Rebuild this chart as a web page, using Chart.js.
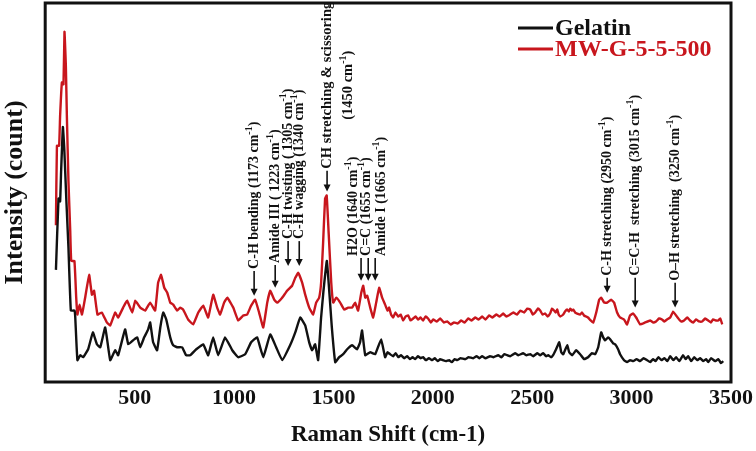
<!DOCTYPE html>
<html>
<head>
<meta charset="utf-8">
<script src="https://cdn.jsdelivr.net/npm/chart.js@4"></script>
<style>
  html, body { margin: 0; padding: 0; background: #fff; }
  #wrap { width: 756px; height: 451px; }
</style>
</head>
<body>
<div id="wrap"><canvas id="raman"></canvas></div>
<script>
// x tick labels (Raman shift, cm-1)
const xTicks = [500, 1000, 1500, 2000, 2500, 3000, 3500];

// Gelatin spectrum (intensity in arbitrary counts)
const shiftGelatin = [
  104,117,125,130,139,146,156,167,179,197, 201,212,226,241,266,290,310,327,352,377,
  402,417,452,468,498,513,528,548,568,578, 593,613,629,644,659,679,694,714,739,759,
  779,810,845,870,895,920,955,991,1021,1056, 1086,1116,1147,1182,1212,1242,1282,1308,1333,1358,
  1378,1393,1408,1423,1438,1450,1467,1492,1509,1529, 1549,1569,1594,1619,1634,1644,1660,1685,1710,1740,
  1760,1772,1785,1800,1813,1826,1840,1855,1871,1885, 1898,1911,1925,1938,1951,1965,1980,1997,2010,2025,
  2037,2050,2066,2082,2095,2110,2122,2140,2163,2180, 2203,2220,2235,2248,2265,2288,2305,2329,2345,2360,
  2374,2390,2414,2430,2454,2470,2490,2505,2525,2540, 2555,2570,2580,2595,2605,
  2620,2636,2646,2656,2676,2686,2701,2721,2741,2761, 2781,2801,2817,2832,2847,2857,2867,2882,2892,2907,
  2917,2932,2942,
  2962,2977,2993,3008,3025,3043,3060,3078,3093,3108, 3120,3135,3150,3165,3180,3194,3210,3224,3240,3259,
  3272,3284,3300,3315,3330,3345,3360,3375,3385,3400, 3420,3436,3450,3461
];
const intensityGelatin = [
  113,185,182,212,257,235,185,135,72,72, 66,22,27,25,33,50,38,35,55,22,
  32,27,53,38,43,45,35,45,53,60, 40,32,55,70,63,45,37,35,35,27,
  27,33,38,27,45,27,45,32,25,28, 40,45,25,48,35,22,37,50,65,57,
  40,32,38,22,65,92,122,55,20,25, 28,33,37,33,40,52,27,30,28,43,
  25,30,28,26,29,25,27,24,26,23, 25,23,26,24,25,22,24,22,24,21,
  23,22,21,22,20,23,22,24,23,25, 24,26,24,26,24,26,25,27,25,28,
  27,26,29,27,29,27,28,26,29,27, 29,26,27,25,27,
  33,40,30,28,37,30,27,32,28,23, 25,29,28,35,50,45,42,45,43,39,
  38,33,28,
  22,20,22,21,23,21,24,22,20,23, 21,25,22,24,21,26,22,25,21,27,
  23,26,21,25,22,24,21,23,20,24, 21,23,19,21
];

// MW-G-5-5-500 spectrum
const shiftMW = [
  104,109,120,125,134,142,147,154,159,167, 176,181,197,206,212,223,235,251,271,285,
  296,313,335,360,377,402,417,442,462,488, 503,528,553,578,603,618,633,649,664,679,
  694,714,729,744,769,794,820,845,870,895, 915,930,950,966,996,1021,1046,1066,1086,1106,
  1126,1147,1167,1182,1202,1217,1242,1267,1292,1308, 1323,1343,1358,1378,1398,1413,1428,1438,1448,1458,
  1466,1476,1489,1499,1514,1534,1554,1574,1594,1609, 1624,1640,1650,1660,1670,1685,1700,1715,1730,1745,
  1760,1772,1780,1790,1800,1812,1826,1838,1851,1863, 1876,1888,1901,1913,1926,1938,1951,1963,1976,1990,
  2002,2020,2037,2055,2072,2090,2107,2125,2142,2160, 2178,2195,2213,2230,2248,2265,2283,2300,2319,2336,
  2354,2370,2389,2405,2424,2440,2459,2475,2490,2503, 2515,2528,2540,2552,2565,2578,2590,2600,2610,2618,
  2626,2633,2641,2656,2665,2676,2684,2691,2700,2706, 2716,2726,2741,2751,2761,2771,2781,2794,2807,
  2822,2837,2847,2862,2877,2897,2912,2927,2942,2962, 2977,2992,3008,3023,3043,3068,3093,3108,3123,3138,
  3153,3165,3178,3194,3209,3224,3239,3250,3264,3280, 3294,3310,3324,3340,3355,3370,3385,3398,3410,3424,
  3436,3446,3456
];
const intensityMW = [
  158,238,238,268,302,300,353,318,268,202, 152,122,122,85,68,78,68,85,108,88,
  92,68,70,60,57,70,65,75,82,70, 82,75,72,80,72,100,108,95,90,80,
  78,72,75,73,63,58,70,77,65,88, 75,68,80,85,75,62,67,68,77,83,
  70,55,80,92,83,80,85,92,97,105, 110,100,88,75,68,80,85,100,140,185,
  188,150,100,80,85,80,73,75,75,80, 72,90,97,85,87,75,65,80,95,85,
  78,72,75,68,65,70,66,68,62,66, 67,62,64,66,63,65,62,66,64,60,
  63,61,64,60,61,58,60,59,62,60, 64,62,65,63,66,63,67,65,68,66,
  69,66,68,70,68,72,70,74,73,68, 70,74,72,68,69,66,69,74,72,70,
  73,68,66,68,71,73,71,74,72,73, 70,69,68,70,67,66,65,62,60,
  70,83,85,80,80,83,80,70,65,63, 58,67,69,65,58,60,62,60,61,64,
  63,61,63,65,71,67,63,61,62,65, 62,60,63,61,61,64,62,60,63,62,
  62,64,58
];

const seriesNames = ['Gelatin', 'MW-G-5-5-500'];
const seriesColors = ['#111111', '#c8161d'];

// band assignments drawn as rotated labels with arrows
const notes = [
  { text: ['C-H bending (1173 cm^-1^)'], at: 1101, tail: 112, tip: 87 },
  { text: ['Amide III ( 1223 cm^-1^)'], at: 1207, tail: 118, tip: 95 },
  { text: ['C-H twisting ( 1305 cm^-1^)'], at: 1272, tail: 142, tip: 117 },
  { text: ['C-H wagging (1340 cm^-1^)'], at: 1328, tail: 142, tip: 117 },
  { text: ['CH stretching & scissoring', '(1450 cm^-1^)'], at: 1468, tail: 213, tip: 192, size: 14.5 },
  { text: ['H2O (1640 cm^-1^)'], at: 1599, arrowAt: 1639, tail: 125, tip: 102 },
  { text: ['C=C (1655 cm^-1^)'], at: 1665, arrowAt: 1675, tail: 125, tip: 102 },
  { text: ['Amide I (1665 cm^-1^)'], at: 1740, arrowAt: 1710, tail: 125, tip: 102 },
  { text: ['C-H stretching (2950 cm^-1^)'], at: 2877, tail: 105, tip: 90 },
  { text: ['C=C-H  stretching (3015 cm^-1^)'], at: 3018, tail: 105, tip: 75 },
  { text: ['O\u2013H stretching  (3250 cm^-1^)'], at: 3219, tail: 100, tip: 75 }
];

const serif = "'Liberation Serif', 'Times New Roman', serif";

function drawUpText(ctx, str, size, x0, y0) {
  // '^' marks superscript parts
  let cx = x0;
  str.split('^').forEach((p, i) => {
    const sup = i % 2 === 1;
    ctx.font = `bold ${sup ? Math.round(size * 0.7) : size}px ${serif}`;
    ctx.fillText(p, cx, y0 + (sup ? -size * 0.35 : 0));
    cx += ctx.measureText(p).width;
  });
}

function measureUp(ctx, str, size) {
  let w = 0;
  str.split('^').forEach((p, i) => {
    ctx.font = `bold ${i % 2 ? Math.round(size * 0.7) : size}px ${serif}`;
    w += ctx.measureText(p).width;
  });
  return w;
}

const decorations = {
  id: 'decorations',
  afterDatasetsDraw(chart) {
    const { ctx, chartArea: a, scales: { x, y } } = chart;
    ctx.save();

    // frame box
    ctx.lineWidth = 3;
    ctx.strokeStyle = '#111';
    ctx.strokeRect(a.left, a.top, a.right - a.left, a.bottom - a.top);

    // peak labels
    ctx.fillStyle = '#111';
    ctx.strokeStyle = '#111';
    notes.forEach(n => {
      const size = n.size || 14;
      const tx = x.getPixelForValue(n.at);
      const ax = x.getPixelForValue(n.arrowAt || n.at);
      const tailY = y.getPixelForValue(n.tail);
      const tipY = y.getPixelForValue(n.tip);

      ctx.lineWidth = 1.6;
      ctx.beginPath();
      ctx.moveTo(ax, tailY);
      ctx.lineTo(ax, tipY - 5);
      ctx.stroke();
      ctx.beginPath();
      ctx.moveTo(ax - 3.5, tipY - 7);
      ctx.lineTo(ax + 3.5, tipY - 7);
      ctx.lineTo(ax, tipY);
      ctx.closePath();
      ctx.fill();

      ctx.save();
      ctx.translate(tx, tailY - 2);
      ctx.rotate(-Math.PI / 2);
      ctx.textBaseline = 'middle';
      ctx.textAlign = 'left';
      const w0 = measureUp(ctx, n.text[0], size);
      drawUpText(ctx, n.text[0], size, 0, 0);
      for (let i = 1; i < n.text.length; i++) {
        const wi = measureUp(ctx, n.text[i], size);
        drawUpText(ctx, n.text[i], size, (w0 - wi) / 2, i * (size + 7));
      }
      ctx.restore();
    });

    // legend
    ctx.textBaseline = 'middle';
    ctx.textAlign = 'left';
    chart.data.datasets.forEach((ds, i) => {
      const ly = a.top + 25 + i * 21;
      ctx.strokeStyle = ds.borderColor;
      ctx.lineWidth = 3;
      ctx.beginPath();
      ctx.moveTo(a.right - 213, ly);
      ctx.lineTo(a.right - 178, ly);
      ctx.stroke();
      ctx.fillStyle = ds.borderColor;
      ctx.font = `bold 24px ${serif}`;
      ctx.fillText(ds.label, a.right - 176, ly + 1);
    });
    ctx.restore();
  }
};

const toPoints = (xs, ys) => xs.map((v, i) => ({ x: v, y: ys[i] }));

new Chart(document.getElementById('raman'), {
  type: 'line',
  data: {
    datasets: [
      {
        label: seriesNames[0],
        data: toPoints(shiftGelatin, intensityGelatin),
        borderColor: seriesColors[0],
        borderWidth: 2.4,
        pointRadius: 0,
        tension: 0.1
      },
      {
        label: seriesNames[1],
        data: toPoints(shiftMW, intensityMW),
        borderColor: seriesColors[1],
        borderWidth: 2.4,
        pointRadius: 0,
        tension: 0.1
      }
    ]
  },
  options: {
    responsive: true,
    maintainAspectRatio: false,
    animation: false,
    layout: { padding: { left: 0, top: 3, right: 25, bottom: 0 } },
    plugins: {
      legend: { display: false },
      tooltip: { enabled: false }
    },
    scales: {
      x: {
        type: 'linear',
        min: 50,
        max: 3500,
        afterBuildTicks: scale => { scale.ticks = xTicks.map(v => ({ value: v })); },
        grid: { display: false, drawTicks: false },
        border: { display: false },
        ticks: {
          color: '#111',
          padding: 3,
          maxRotation: 0,
          callback: value => String(value),
          font: { family: serif, size: 22, weight: 'bold' }
        },
        title: {
          display: true,
          text: 'Raman Shift (cm-1)',
          color: '#111',
          padding: { top: 7, bottom: 2 },
          font: { family: serif, size: 23, weight: 'bold' }
        }
      },
      y: {
        min: 0,
        max: 382,
        grid: { display: false, drawTicks: false },
        border: { display: false },
        ticks: { display: false },
        title: {
          display: true,
          text: 'Intensity (count)',
          color: '#111',
          padding: { top: 0, bottom: 14 },
          font: { family: serif, size: 26, weight: 'bold' }
        }
      }
    }
  },
  plugins: [decorations]
});
</script>
</body>
</html>
